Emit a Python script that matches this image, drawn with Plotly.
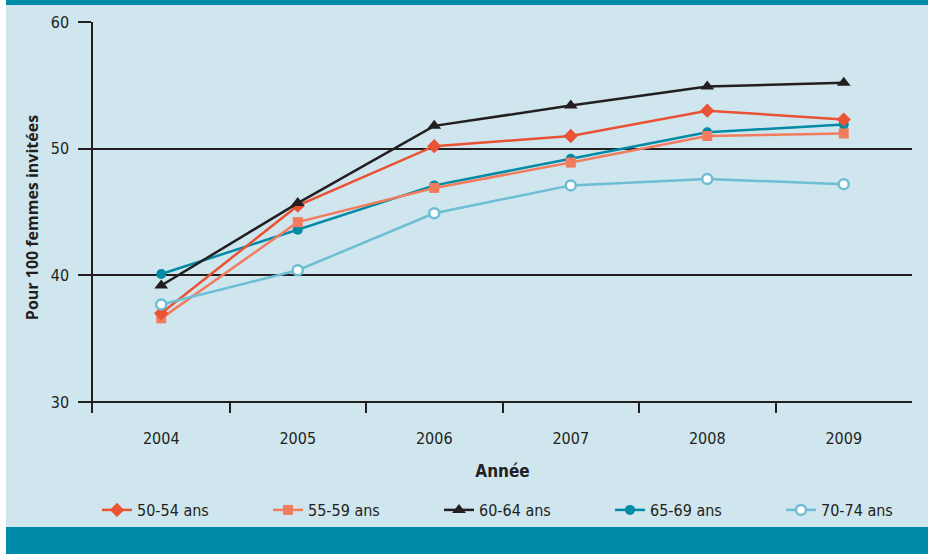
import plotly.graph_objects as go

# Data: participation rate per 100 invited women, by age group
years = ["2004", "2005", "2006", "2007", "2008", "2009"]
s50_54 = [37.0, 45.5, 50.2, 51.0, 53.0, 52.3]
s55_59 = [36.6, 44.2, 46.9, 48.9, 51.0, 51.2]
s60_64 = [39.2, 45.7, 51.8, 53.4, 54.9, 55.2]
s65_69 = [40.1, 43.6, 47.1, 49.2, 51.3, 51.9]
s70_74 = [37.7, 40.4, 44.9, 47.1, 47.6, 47.2]
y_ticks = [30, 40, 50, 60]

W, H = 930, 554
L, R, T, B = 93, 18, 22, 141
PW, PH = W - L - R, H - T - B

def px(x):
    return (x - L) / PW

def py(y):
    return (H - B - y) / PH

BG = "#cfe6ee"
BAND = "#008ca9"
DARK = "#231f20"
FONT = "Liberation Sans Narrow, DejaVu Sans Condensed, Roboto Condensed, Arial Narrow, sans-serif"

series = [
    # name, values, color, symbol, size, rank
    ("65-69 ans", s65_69, "#008aa6", "circle", 10, 4),
    ("55-59 ans", s55_59, "#f47c5e", "square", 10, 2),
    ("50-54 ans", s50_54, "#ea5234", "diamond", 11, 1),
    ("60-64 ans", s60_64, DARK, "triangle-up", 12, 3),
    ("70-74 ans", s70_74, "#6dbed3", "circle", 10, 5),
]

fig = go.Figure()
for name, vals, color, sym, size, rank in series:
    open_marker = rank == 5
    fig.add_trace(go.Scatter(
        x=years, y=vals, name=name, mode="lines+markers",
        legendrank=rank,
        line=dict(color=color, width=2.5),
        marker=dict(
            symbol=sym, size=size,
            color="white" if open_marker else color,
            line=dict(color=color, width=2.5 if open_marker else 0),
        ),
        cliponaxis=False,
    ))

shapes = [
    dict(type="rect", xref="paper", yref="paper", layer="below",
         x0=px(6), x1=px(928), y0=py(H), y1=py(0),
         fillcolor=BG, line=dict(width=0)),
    dict(type="rect", xref="paper", yref="paper", layer="below",
         x0=px(6), x1=px(928), y0=py(5), y1=py(0),
         fillcolor=BAND, line=dict(width=0)),
    dict(type="rect", xref="paper", yref="paper", layer="below",
         x0=px(6), x1=px(928), y0=py(H), y1=py(527),
         fillcolor=BAND, line=dict(width=0)),
]

fig.update_layout(
    width=W, height=H,
    margin=dict(l=L, r=R, t=T, b=B, autoexpand=False),
    paper_bgcolor="white",
    plot_bgcolor="rgba(0,0,0,0)",
    shapes=shapes,
    font=dict(family=FONT, size=16, color=DARK),
    showlegend=True,
    legend=dict(
        orientation="h", x=px(92), xanchor="left",
        y=py(510), yanchor="middle",
        bgcolor="rgba(0,0,0,0)",
        bordercolor="rgba(0,0,0,0)", borderwidth=5,
        entrywidth=126, entrywidthmode="pixels",
        font=dict(family=FONT, size=16, color=DARK),
        traceorder="normal",
    ),
    xaxis=dict(
        type="category", range=[-0.5, 5.5],
        tickson="boundaries", ticks="inside", ticklen=11,
        tickwidth=1.5, tickcolor=DARK,
        showgrid=False, showline=False, zeroline=False,
        ticklabelstandoff=14,
        tickfont=dict(family=FONT, size=16, color=DARK),
        title=dict(text="<b>Année</b>", standoff=18,
                   font=dict(family=FONT, size=17, color=DARK)),
    ),
    yaxis=dict(
        range=[29.13, 60], tickvals=y_ticks,
        showline=True, linecolor=DARK, linewidth=1.5,
        showgrid=True, gridcolor=DARK, gridwidth=1.5,
        ticks="outside", ticklen=13, tickwidth=1.5, tickcolor=DARK,
        zeroline=False, ticklabelstandoff=6,
        tickfont=dict(family=FONT, size=16, color=DARK),
        title=dict(text="<b>Pour 100 femmes invitées</b>", standoff=8,
                   font=dict(family="Open Sans, sans-serif", size=16, color=DARK)),
    ),
)

fig.write_html("out.html")
